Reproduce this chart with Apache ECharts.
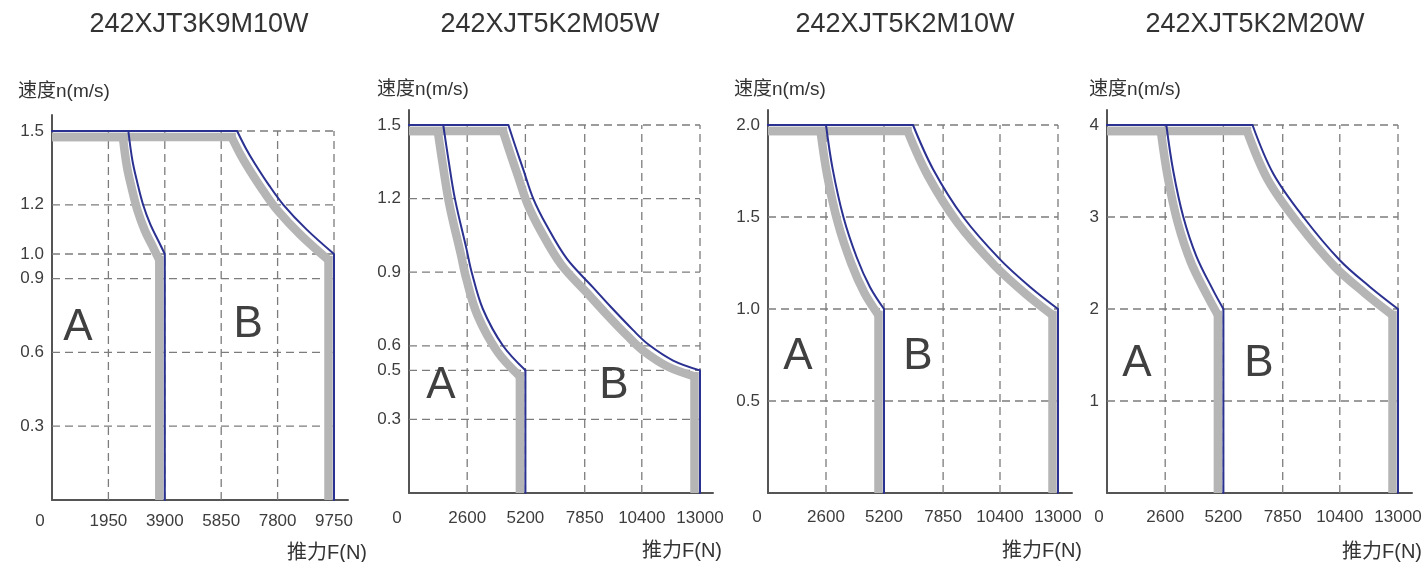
<!DOCTYPE html>
<html>
<head>
<meta charset="utf-8">
<script src="https://cdn.jsdelivr.net/npm/echarts@6/dist/echarts.min.js"></script>
<style>
html,body{margin:0;padding:0;background:#fff;}
#c{width:1426px;height:562px;}
</style>
</head>
<body>
<div id="c"></div>
<script>
// ---------------- data ----------------
const titles = ['242XJT3K9M10W', '242XJT5K2M05W', '242XJT5K2M10W', '242XJT5K2M20W'];
const yName = '速度n(m/s)';
const xName = '推力F(N)';
const zoneNames = ['A', 'B'];

const xTicks1 = [0, 1950, 3900, 5850, 7800, 9750];
const xTicks2 = [0, 2600, 5200, 7850, 10400, 13000];
const xTicks3 = [0, 2600, 5200, 7850, 10400, 13000];
const xTicks4 = [0, 2600, 5200, 7850, 10400, 13000];

const yTicks1 = [0.3, 0.6, 0.9, 1.0, 1.2, 1.5];
const yTicks2 = [0.3, 0.5, 0.6, 0.9, 1.2, 1.5];
const yTicks3 = [0.5, 1.0, 1.5, 2.0];
const yTicks4 = [1, 2, 3, 4];
const yDecimals = [1, 1, 1, 0];

// curves [thrust F (N), speed n (m/s)]
const curve1A = [[0,1.5],[2640,1.5],[2780,1.38],[2950,1.29],[3150,1.2],[3400,1.12],[3650,1.06],[3900,1.0],[3900,0]];
const curve1B = [[0,1.5],[6400,1.5],[6700,1.43],[7000,1.37],[7500,1.28],[8000,1.2],[8800,1.1],[9750,1.0],[9750,0]];
const curve2A = [[0,1.5],[1530,1.5],[1760,1.36],[2050,1.2],[2580,0.99],[2800,0.9],[3300,0.75],[4200,0.6],[5200,0.5],[5200,0]];
const curve2B = [[0,1.5],[4440,1.5],[4800,1.4],[5100,1.32],[5550,1.2],[6150,1.09],[7050,0.955],[8200,0.84],[9000,0.76],[10000,0.665],[10700,0.605],[11800,0.54],[13000,0.5],[13000,0]];
const curve3A = [[0,2],[2600,2],[2900,1.76],[3380,1.5],[3980,1.28],[4570,1.12],[5200,1.0],[5200,0]];
const curve3B = [[0,2],[6500,2],[7400,1.76],[8750,1.5],[10400,1.27],[11750,1.12],[13000,1.0],[13000,0]];
const curve4A = [[0,4],[2650,4],[2960,3.5],[3410,3.0],[4000,2.57],[4750,2.2],[5200,2.0],[5200,0]];
const curve4B = [[0,4],[6500,4],[7430,3.47],[8770,3.0],[10400,2.53],[11750,2.24],[13000,2.0],[13000,0]];

// positions of the A / B zone labels [F, n]
const zonePos1 = [[900,0.70],[6780,0.71]];
const zonePos2 = [[1430,0.436],[9160,0.436]];
const zonePos3 = [[1345,0.74],[6725,0.74]];
const zonePos4 = [[1340,1.40],[6790,1.40]];

// ---------------- layout / style ----------------
const FONT = "'Liberation Sans', Arial, 'Noto Sans CJK SC', sans-serif";
const BLUE = '#2b3190';
const GRAY = '#b5b5b5';
const TXT = '#3d3d3d';

const layout = [
  {left:52,  top:115, width:296, height:385, xOver:14, yOver:16, zeroShift:12, xMargin:13, titleX:199, titleY:25, yNameX:18,  yNameY:92, xNameX:367,  xNameY:553},
  {left:409, top:110, width:304, height:383, xOver:13, yOver:15, zeroShift:12, xMargin:17, titleX:550, titleY:25, yNameX:377, yNameY:90, xNameX:722,  xNameY:551},
  {left:768, top:110, width:304, height:383, xOver:14, yOver:15, zeroShift:11, xMargin:16, titleX:905, titleY:25, yNameX:734, yNameY:90, xNameX:1082, xNameY:551},
  {left:1107,top:110, width:305, height:383, xOver:14, yOver:15, zeroShift:8,  xMargin:16, titleX:1255,titleY:25, yNameX:1089,yNameY:90, xNameX:1422, xNameY:552}
];

const charts = [
  {xt:xTicks1, yt:yTicks1, curves:[curve1A, curve1B], zones:zonePos1},
  {xt:xTicks2, yt:yTicks2, curves:[curve2A, curve2B], zones:zonePos2},
  {xt:xTicks3, yt:yTicks3, curves:[curve3A, curve3B], zones:zonePos3},
  {xt:xTicks4, yt:yTicks4, curves:[curve4A, curve4B], zones:zonePos4}
];

// build a piecewise shape: straight top run, smooth curved part, straight vertical drop
function curvePieces(pts, stroke, width, straightCap) {
  const n = pts.length;
  return [
    {type:'polyline', shape:{points:[pts[0], pts[1]]},
      style:{stroke, lineWidth:width, fill:'none', lineCap:straightCap}},
    {type:'polyline', shape:{points:pts.slice(1, n - 1), smooth:0.35},
      style:{stroke, lineWidth:width, fill:'none', lineCap:'butt'}},
    {type:'polyline', shape:{points:[pts[n - 2], pts[n - 1]]},
      style:{stroke, lineWidth:width, fill:'none', lineCap:straightCap}}
  ];
}

const grid = [], xAxis = [], yAxis = [], series = [], graphic = [];

charts.forEach((c, i) => {
  const L = layout[i];
  const xMaxData = c.xt[c.xt.length - 1];
  const yMaxData = c.yt[c.yt.length - 1];
  grid.push({left:L.left, top:L.top, width:L.width, height:L.height, containLabel:false});
  xAxis.push({
    gridIndex:i, type:'value', min:0, max: xMaxData * L.width / (L.width - L.xOver),
    axisLine:{show:true, onZero:false, lineStyle:{color:'#555', width:2}},
    axisTick:{show:false}, splitLine:{show:false},
    axisLabel:{
      customValues: c.xt, margin: L.xMargin, color: TXT, fontSize: 17, fontFamily: FONT,
      showMinLabel:true, showMaxLabel:true,
      formatter: v => v === 0 ? '{z|0}' : String(v),
      rich:{ z:{ padding:[0, L.zeroShift*2, 0, 0], fontSize:17, color:TXT, fontFamily:FONT } }
    }
  });
  yAxis.push({
    gridIndex:i, type:'value', min:0, max: yMaxData * L.height / (L.height - L.yOver),
    axisLine:{show:true, onZero:false, lineStyle:{color:'#555', width:2}},
    axisTick:{show:false}, splitLine:{show:false},
    axisLabel:{
      customValues: c.yt, margin: 8, color: TXT, fontSize: 17, fontFamily: FONT,
      showMinLabel:true, showMaxLabel:true,
      formatter: v => Number(v).toFixed(yDecimals[i])
    }
  });

  // dashed grid lines
  series.push({
    type:'custom', xAxisIndex:i, yAxisIndex:i, z:1, silent:true, data:[[0,0]],
    renderItem:(params, api) => {
      const children = [];
      c.yt.forEach(v => {
        const a = api.coord([0, v]), b = api.coord([xMaxData, v]);
        children.push({type:'line', shape:{x1:a[0], y1:a[1], x2:b[0], y2:b[1]},
          style:{stroke:'#7c7c7c', lineWidth:1.3, lineDash:[8,5], fill:'none'}});
      });
      c.xt.filter(x => x > 0).forEach(x => {
        const a = api.coord([x, 0]), b = api.coord([x, yMaxData]);
        children.push({type:'line', shape:{x1:a[0], y1:a[1], x2:b[0], y2:b[1]},
          style:{stroke:'#7c7c7c', lineWidth:1.3, lineDash:[8,5], fill:'none'}});
      });
      return {type:'group', children};
    }
  });

  // gray offset bands
  c.curves.forEach(curve => {
    series.push({
      type:'custom', xAxisIndex:i, yAxisIndex:i, z:2, silent:true, data:[[0,0]],
      renderItem:(params, api) => {
        const cs = params.coordSys;
        const pts = curve.map(p => { const q = api.coord(p); return [q[0] - 5.5, q[1] + 6]; });
        return {
          type:'group',
          clipPath:{type:'rect', shape:{x:cs.x, y:cs.y, width:cs.width, height:cs.height}},
          children: curvePieces(pts, GRAY, 8.5, 'square')
        };
      }
    });
  });
  // blue boundary lines
  c.curves.forEach(curve => {
    series.push({
      type:'custom', xAxisIndex:i, yAxisIndex:i, z:3, silent:true, data:[[0,0]],
      renderItem:(params, api) => {
        const pts = curve.map(p => api.coord(p));
        return {type:'group', children: curvePieces(pts, BLUE, 2, 'round')};
      }
    });
  });

  // zone labels
  series.push({
    type:'custom', xAxisIndex:i, yAxisIndex:i, z:4, silent:true, data:c.zones,
    renderItem:(params, api) => {
      const q = api.coord([api.value(0), api.value(1)]);
      return {type:'text', x:q[0], y:q[1],
        style:{text:zoneNames[params.dataIndex], fontSize:44, fontFamily:FONT, fill:'#404040',
               align:'center', verticalAlign:'middle'}};
    }
  });

  graphic.push({type:'text', x:L.titleX, y:L.titleY,
    style:{text:titles[i], fontSize:27, fontFamily:FONT, fill:'#333', align:'center', verticalAlign:'middle'}});
  graphic.push({type:'text', x:L.yNameX, y:L.yNameY,
    style:{text:yName, fontSize:19, fontFamily:FONT, fill:'#333', align:'left', verticalAlign:'middle'}});
  graphic.push({type:'text', x:L.xNameX, y:L.xNameY,
    style:{text:xName, fontSize:20, fontFamily:FONT, fill:'#333', align:'right', verticalAlign:'middle'}});
});

const chart = echarts.init(document.getElementById('c'), null, {renderer:'canvas'});
chart.setOption({
  animation:false,
  backgroundColor:'#fff',
  grid, xAxis, yAxis, series, graphic
});
</script>
</body>
</html>
